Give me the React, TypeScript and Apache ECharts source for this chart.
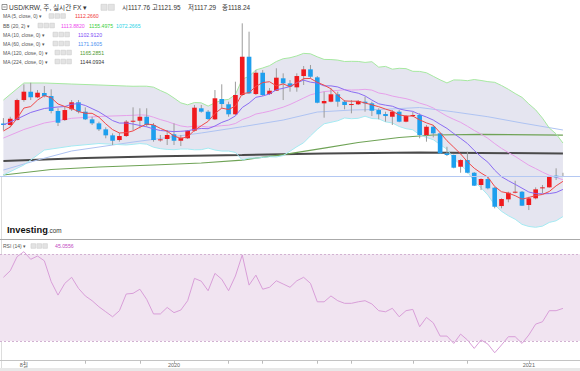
import React, { useEffect, useRef } from 'react';
import * as echarts from 'echarts';

// ---------- data (weekly USD/KRW) ----------
const startWeek = '2019-07-08';

const open = [1178.6,1176.9,1182.6,1205.6,1215.2,1208.7,1213.7,1210.2,1193.0,1182.6,
1194.9,1203.0,1192.2,1183.4,1178.8,1171.9,1165.0,1159.6,1164.2,1180.7,
1181.8,1186.4,1176.9,1160.0,1160.8,1166.2,1158.8,1161.6,1170.3,1196.1,
1192.2,1183.4,1206.8,1200.7,1189.2,1211.4,1255.4,1212.5,1237.0,1212.5,
1216.3,1230.6,1224.8,1220.2,1233.2,1240.9,1231.7,1201.8,1203.7,1212.2,
1203.7,1200.7,1200.7,1203.7,1201.8,1194.1,1189.5,1186.4,1192.2,1180.7,
1188.0,1188.4,1165.4,1174.9,1167.3,1144.3,1142.4,1128.9,1136.6,1122.0,
1107.9,1114.8,1104.8,1083.7,1091.4,1099.5,1100.2,1084.9,1092.6,1104.1,
1105.2,1118.6,1117.76];

const high = [1184.9,1186.4,1207.1,1223.7,1225.5,1217.1,1221.7,1217.9,1196.1,1197.6,
1205.6,1205.6,1197.2,1186.4,1180.7,1174.2,1167.3,1167.7,1182.6,1197.2,
1196.1,1196.1,1179.2,1165.4,1171.1,1178.8,1165.4,1171.1,1199.9,1199.9,
1194.1,1217.1,1223.7,1203.7,1226.7,1293.8,1284.2,1240.1,1240.1,1219.4,
1242.1,1236.3,1228.6,1236.3,1244.7,1245.9,1233.2,1215.2,1219.1,1215.2,
1205.6,1205.6,1205.6,1209.4,1203.7,1196.1,1192.2,1194.1,1194.1,1188.4,
1191.8,1190.3,1176.9,1176.9,1168.3,1151.9,1142.9,1137.4,1146.2,1122.8,
1115.6,1117.4,1105.6,1092.6,1100.2,1112.8,1101.0,1094.4,1105.2,1107.9,
1118.2,1127.1,1121.95];

const low = [1170.6,1174.2,1182.1,1203.7,1205.6,1207.9,1208.7,1190.3,1175.7,1181.5,
1193.0,1190.3,1182.6,1176.9,1170.0,1161.6,1153.9,1157.7,1163.1,1171.1,
1173.1,1174.9,1157.7,1157.7,1153.9,1153.9,1152.7,1160.8,1169.2,1191.0,
1182.6,1182.6,1196.1,1186.4,1188.4,1210.2,1212.5,1211.4,1210.2,1211.4,
1216.0,1205.6,1215.2,1215.2,1222.9,1230.6,1201.8,1185.3,1203.0,1197.9,
1194.9,1190.3,1199.9,1192.2,1187.2,1183.4,1180.7,1176.9,1180.0,1180.0,
1186.1,1161.6,1157.7,1162.7,1143.5,1141.2,1127.1,1122.0,1121.3,1106.7,
1102.1,1102.9,1081.1,1081.1,1088.0,1098.3,1083.7,1079.1,1091.4,1098.3,
1104.8,1113.6,1117.29];

const close = [1176.9,1184.1,1205.6,1215.2,1208.7,1214.0,1210.2,1193.0,1179.5,1194.1,
1203.0,1192.2,1183.4,1178.8,1171.9,1165.0,1158.8,1164.2,1180.7,1181.8,
1186.4,1176.9,1159.6,1160.4,1165.4,1158.8,1162.3,1170.3,1196.8,1192.2,
1183.8,1207.6,1201.0,1189.2,1211.4,1255.4,1213.3,1237.0,1211.4,1216.3,
1231.3,1224.8,1220.9,1233.2,1240.9,1232.4,1202.5,1204.5,1212.2,1203.7,
1199.9,1201.0,1204.5,1201.8,1193.3,1189.2,1187.2,1192.2,1180.7,1187.2,
1188.4,1165.4,1174.9,1167.3,1144.3,1142.4,1127.8,1136.6,1122.0,1107.1,
1114.8,1104.1,1082.9,1091.8,1099.0,1100.2,1084.1,1092.6,1102.9,1105.2,
1117.4,1116.7,1118.24];

const rsi = [59.4,62.4,68.9,71.2,67.7,69.2,67.0,57.4,51.2,56.6,
59.4,54.3,50.8,48.6,45.8,43.5,41.2,44.0,51.7,52.0,
53.9,49.2,42.5,42.5,45.5,43.1,44.3,48.6,58.9,57.6,
53.2,61.2,58.5,53.2,60.0,69.7,55.8,60.4,53.9,54.8,
57.8,56.3,54.8,57.8,59.4,56.6,48.1,48.1,50.8,48.6,
47.4,47.4,48.1,48.6,47.1,44.0,43.5,45.1,41.2,44.0,
44.6,36.6,40.9,38.4,32.3,32.3,28.9,33.2,30.5,26.6,
30.5,28.6,24.6,28.2,32.0,32.0,28.9,32.8,37.8,38.9,
44.0,44.0,45.06];

// indicator values read before their windows fill: [weekIndex, value]
const ma5Head = [[0, 1170.0], [1, 1174.6], [2, 1184.4], [3, 1196.4]];
const ma10Head = [[0, 1176.9], [2, 1183.8], [4, 1191.3], [6, 1195.9], [8, 1197.6]];
const bbMidHead = [[0, 1161.9], [3, 1171.7], [6, 1179.2], [10, 1184.6], [14, 1186.7], [18, 1187.8]];
const bbUpHead = [[0, 1205.6], [3, 1225.2], [6, 1225.2], [10, 1224.0], [14, 1222.9], [18, 1221.7]];
const bbLowHead = [[0, 1119.4], [3, 1130.9], [6, 1148.1], [10, 1152.7], [14, 1155.6], [18, 1153.9]];

// long moving averages: [weekIndex, value]
const ma60Pts = [[0, 1125.1], [5, 1136.6], [10, 1147.0], [19, 1157.3], [29, 1167.7], [35, 1174.9], [41, 1182.6], [46, 1191.8], [51, 1194.1], [56, 1195.0], [61, 1197.0], [66, 1192.0], [71, 1186.4], [76, 1179.2], [82, 1171.16]];
const ma120Pts = [[0, 1119.4], [7, 1125.7], [14, 1128.6], [22, 1130.9], [29, 1133.2], [35, 1136.6], [41, 1142.9], [47, 1150.4], [52, 1156.8], [58, 1162.5], [63, 1165.4], [70, 1166.2], [82, 1165.29]];
const ma224Pts = [[0, 1135.5], [12, 1138.9], [23, 1140.9], [35, 1142.4], [47, 1144.1], [61, 1145.3], [82, 1144.09]];

const lastPrice = 1118.24;
const tickIdx = [3, 12, 20, 25, 33, 38, 46, 51, 60, 68, 77];
const tickLabels: Record<number, string> = { 3: '8월', 25: '2020', 77: '2021' };

const titleText = 'USD/KRW, 주, 실시간 FX ▾';
const ohlcLabels = [['시', '1117.76', 122], ['고', '1121.95', 152], ['저', '1117.29', 188], ['종', '1118.24', 222]];
const legendRows = [
  { y: 16, label: 'MA (5, close, 0) ▾', box: 49, vals: [['1112.2660', '#f03a3a', 75]] },
  { y: 25.5, label: 'BB (20, 2) ▾', box: 38, vals: [['1113.8820', '#ee4cee', 61], ['1155.4975', '#3ccf3c', 89], ['1072.2665', '#1fd3e6', 116]] },
  { y: 34.5, label: 'MA (10, close, 0) ▾', box: 53, vals: [['1102.9120', '#7d4cf5', 78]] },
  { y: 43.5, label: 'MA (60, close, 0) ▾', box: 53, vals: [['1171.1605', '#4b8ff0', 78]] },
  { y: 52.5, label: 'MA (120, close, 0) ▾', box: 55, vals: [['1165.2851', '#4f9a30', 80]] },
  { y: 61.5, label: 'MA (224, close, 0) ▾', box: 55, vals: [['1144.0934', '#333333', 80]] },
];
const rsiLabel = 'RSI (14) ▾';
const rsiValueText = '45.0556';

// ---------- helpers ----------
function sma(n: number) {
  const out: number[][] = [];
  for (let i = n - 1; i < close.length; i++) {
    let s = 0;
    for (let k = i - n + 1; k <= i; k++) s += close[k];
    out.push([i, s / n]);
  }
  return out;
}
function bollinger(n: number, k: number) {
  const mid: number[][] = [], up: number[][] = [], lo: number[][] = [];
  for (let i = n - 1; i < close.length; i++) {
    let s = 0;
    for (let j = i - n + 1; j <= i; j++) s += close[j];
    const m = s / n;
    let v = 0;
    for (let j = i - n + 1; j <= i; j++) v += (close[j] - m) ** 2;
    const sd = Math.sqrt(v / n);
    mid.push([i, m]); up.push([i, m + k * sd]); lo.push([i, m - k * sd]);
  }
  return { mid, up, lo };
}

const F = 'Arial, "Liberation Sans", "Noto Sans CJK KR", sans-serif';
const RED = '#f01a1e';
const BLUE = '#1e9fee';

function txt(x: number, y: number, text: string, size: number, fill: string, weight = 'normal') {
  return { type: 'text', x, y, silent: true, z: 100, style: { text, fontSize: size, fontFamily: F, fill, fontWeight: weight, verticalAlign: 'middle' } };
}
function boxes(x: number, y: number, n: number, s: number) {
  const out: any[] = [];
  for (let k = 0; k < n; k++) {
    out.push({ type: 'rect', silent: true, z: 100, shape: { x: x + k * (s + 1.3), y: y - s / 2, width: s, height: s }, style: { fill: '#e3e3e3', stroke: '#cdcdcd', lineWidth: 0.6 } });
  }
  return out;
}

export default function App() {
  const ref = useRef<HTMLDivElement>(null);
  useEffect(() => {
    const chart = echarts.init(ref.current!, null, { renderer: 'svg' });
    const cats = close.map((_, i) => new Date(Date.parse(startWeek) + i * 604800000).toISOString().slice(0, 10));
    const bb = bollinger(20, 2);
    const ma5 = [...ma5Head, ...sma(5)];
    const ma10 = [...ma10Head, ...sma(10)];
    const bbMid = [...bbMidHead, ...bb.mid];
    const bbUp = [...bbUpHead, ...bb.up];
    const bbLo = [...bbLowHead, ...bb.lo];

    const line = (data: number[][], color: string, width: number, z: number, extra: any = {}) => ({
      type: 'line', xAxisIndex: 0, yAxisIndex: 0, data, symbol: 'none', silent: true, z,
      lineStyle: { color, width }, ...extra,
    });

    const graphics: any[] = [];
    // title
    graphics.push({ type: 'rect', silent: true, z: 100, shape: { x: 2, y: 4.5, width: 5, height: 5 }, style: { fill: '#fff', stroke: '#666', lineWidth: 0.7 } });
    graphics.push({ type: 'line', silent: true, z: 100, shape: { x1: 3.2, y1: 7, x2: 5.8, y2: 7 }, style: { stroke: '#666', lineWidth: 0.7 } });
    graphics.push(txt(9, 7.5, titleText, 6.6, '#333'));
    graphics.push(...boxes(101, 7.3, 2, 6));
    ohlcLabels.forEach(([k, v, x]) => {
      graphics.push(txt(x as number, 7.5, (k as string) + (v as string), 6.4, '#333'));
    });
    legendRows.forEach((r) => {
      graphics.push(txt(3, r.y, r.label, 5, '#555'));
      graphics.push(...boxes(r.box, r.y, 3, 4.6));
      r.vals.forEach(([v, c, x]) => graphics.push(txt(x as number, r.y, v as string, 5.2, c as string)));
    });
    // logo (one rich text)
    graphics.push({
      type: 'text', x: 7, y: 229.5, silent: true, z: 100,
      style: {
        text: '{a|Investing}{b|.com}', verticalAlign: 'middle',
        rich: {
          a: { fontSize: 9.3, fontWeight: 'bold', fontFamily: F, fill: '#111', verticalAlign: 'bottom' },
          b: { fontSize: 6.4, fontFamily: F, fill: '#333', verticalAlign: 'bottom' },
        },
      },
    });
    // RSI legend
    graphics.push(txt(3, 246, rsiLabel, 5, '#555'));
    graphics.push(...boxes(31, 246, 3, 4.6));
    graphics.push(txt(55, 246, rsiValueText, 5.2, '#c24ac2'));
    // left frame and bottom strip
    graphics.push({ type: 'line', silent: true, z: 0, shape: { x1: 1.5, y1: 176, x2: 1.5, y2: 368 }, style: { stroke: '#dddddd', lineWidth: 1 } });
    graphics.push({ type: 'rect', silent: true, z: 0, shape: { x: 0, y: 368, width: 580, height: 3 }, style: { fill: '#e8e8e8' } });

    const option: any = {
      animation: false,
      backgroundColor: '#ffffff',
      grid: [
        { left: 0, top: 0, width: 580, height: 239 },
        { left: 0, top: 239, width: 580, height: 121.7 },
      ],
      xAxis: [
        {
          type: 'category', gridIndex: 0, data: cats, max: 84,
          axisLine: { show: true, lineStyle: { color: '#aaaaaa', width: 1 } },
          axisTick: { show: false }, axisLabel: { show: false }, splitLine: { show: false },
        },
        {
          type: 'category', gridIndex: 1, data: cats, max: 84,
          axisLine: { show: true, lineStyle: { color: '#c4c4c4', width: 1 } },
          axisTick: { show: true, alignWithLabel: true, length: 3, interval: (i: number) => tickIdx.includes(i), lineStyle: { color: '#bbbbbb' } },
          axisLabel: { show: true, interval: (i: number) => tickLabels[i] !== undefined, formatter: (_v: string, i: number) => tickLabels[i] || '', fontSize: 5.5, color: '#666', margin: 2, fontFamily: F },
          splitLine: { show: false },
        },
      ],
      yAxis: [
        { type: 'value', gridIndex: 0, min: 1045.8, max: 1320.64, show: false, splitLine: { show: false } },
        { type: 'value', gridIndex: 1, min: 20.94, max: 77.06, show: false, splitLine: { show: false } },
      ],
      graphic: graphics,
      series: [
        {
          type: 'custom', xAxisIndex: 0, yAxisIndex: 0, silent: true, z: 1, clip: false,
          data: [[0, lastPrice]], encode: { x: 0, y: 1 },
          renderItem: (_p: any, api: any) => {
            const pts = bbUp.map((p) => api.coord(p)).concat(bbLo.slice().reverse().map((p) => api.coord(p)));
            return { type: 'polygon', shape: { points: pts }, style: { fill: '#e5e5f0' } };
          },
        },
        line(ma224Pts, '#4a4a4a', 2, 2),
        line(ma120Pts, '#6fa356', 1.2, 2),
        line(ma60Pts, '#aec3f2', 1, 2),
        line(bbUp, '#a6e8a0', 1, 2),
        line(bbLo, '#a4eaf2', 1, 2),
        line(bbMid, '#e6a0ea', 1, 2),
        {
          type: 'custom', xAxisIndex: 0, yAxisIndex: 0, silent: true, z: 3,
          data: close.map((c, i) => [i, open[i], c, low[i], high[i]]),
          encode: { x: 0, y: [1, 2, 3, 4] },
          renderItem: (_p: any, api: any) => {
            const i = api.value(0), o = api.value(1), c = api.value(2), l = api.value(3), h = api.value(4);
            const pO = api.coord([i, o]), pC = api.coord([i, c]), pH = api.coord([i, h]), pL = api.coord([i, l]);
            const bw = api.size([1, 0])[0] * 0.68;
            const x = pO[0];
            const top = Math.min(pO[1], pC[1]);
            const hh = Math.max(1, Math.abs(pO[1] - pC[1]));
            return {
              type: 'group',
              children: [
                { type: 'line', shape: { x1: x, y1: pH[1], x2: x, y2: pL[1] }, style: { stroke: '#9c9c9c', lineWidth: 1 } },
                { type: 'rect', shape: { x: x - bw / 2, y: top, width: bw, height: hh }, style: { fill: c >= o ? RED : BLUE } },
              ],
            };
          },
        },
        line(ma10, '#8a6cf2', 1, 4),
        line(ma5, '#f04848', 1, 4, {
          markLine: {
            silent: true, symbol: 'none', label: { show: false },
            lineStyle: { color: '#b4c8f2', width: 1, type: 'solid' },
            data: [{ yAxis: lastPrice }],
          },
        }),
        {
          type: 'line', xAxisIndex: 1, yAxisIndex: 1, data: rsi, symbol: 'none', silent: true, z: 3,
          lineStyle: { color: '#d89ed8', width: 1 },
          markArea: { silent: true, itemStyle: { color: '#f1e4f1' }, data: [[{ yAxis: 30 }, { yAxis: 70 }]] },
          markLine: {
            silent: true, symbol: 'none', label: { show: false },
            lineStyle: { color: '#d2b2d2', width: 1, type: [2, 2] },
            data: [{ yAxis: 70 }, { yAxis: 30 }],
          },
        },
      ],
    };
    chart.setOption(option);
    return () => chart.dispose();
  }, []);
  return <div ref={ref} style={{ position: 'fixed', left: 0, top: 0, width: 580, height: 371, background: '#fff' }} />;
}
